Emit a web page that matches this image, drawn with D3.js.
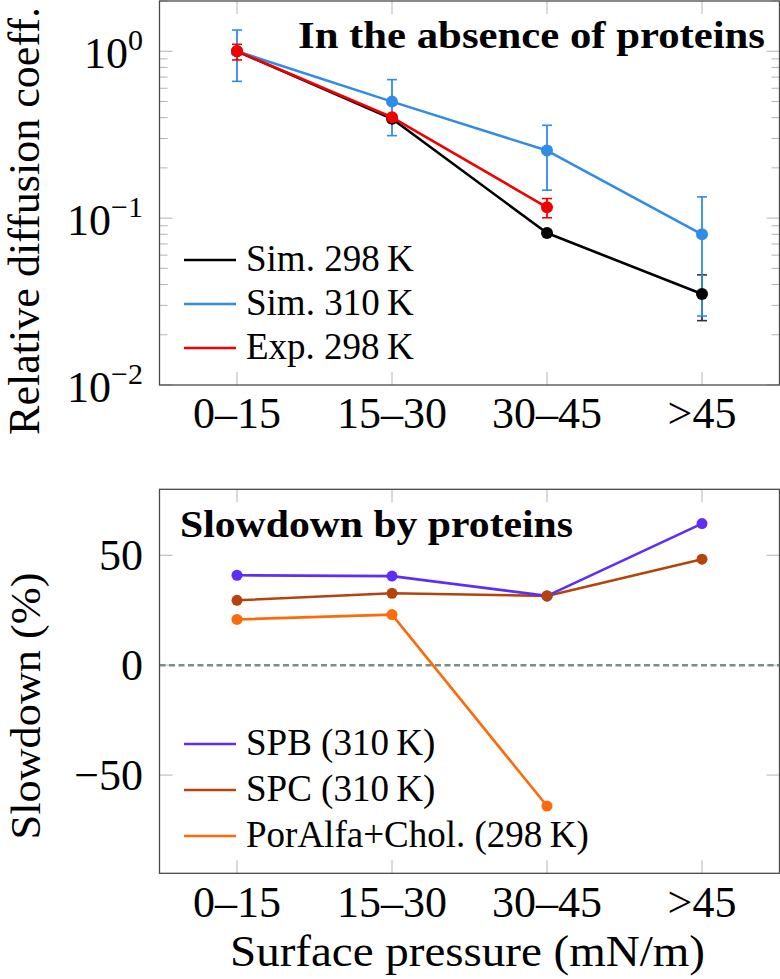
<!DOCTYPE html>
<html><head><meta charset="utf-8">
<script src="https://cdn.jsdelivr.net/npm/d3@7"></script>
<style>body{margin:0;background:#fff}svg{display:block}</style>
</head><body>
<script>
const categories = ["0–15", "15–30", "30–45", ">45"];
// Top panel: relative diffusion coefficient
const sim298 = [1.0, 0.394, 0.0814, 0.0351];
const sim298Lo = [1.0, 0.394, 0.0814, 0.0243];
const sim298Hi = [1.0, 0.394, 0.0814, 0.0457];
const sim310 = [1.0, 0.499, 0.254, 0.080];
const sim310Lo = [0.66, 0.312, 0.147, 0.0259];
const sim310Hi = [1.34, 0.676, 0.36, 0.134];
const exp298 = [1.0, 0.402, 0.116];
const exp298Lo = [0.887, 0.402, 0.1005];
const exp298Hi = [1.10, 0.402, 0.131];
const topTicks = [0.01, 0.1, 1];
const topTickLabels = [["10", "−2"], ["10", "−1"], ["10", "0"]];
// Bottom panel: slowdown by proteins (%)
const spb = [40.9, 40.5, 31.5, 64.4];
const spc = [29.5, 32.7, 31.5, 48.2];
const poralfa = [20.8, 23.0, -64.1];
const bottomTicks = [-50, 0, 50];
const bottomTickLabels = ["−50", "0", "50"];

const FONT = "'Liberation Serif', 'Times New Roman', Tinos, serif";
const W = 780, H = 979;
const svg = d3.select("body").append("svg").attr("width", W).attr("height", H)
  .attr("font-family", FONT).style("font-family", FONT);
const x = d3.scaleLinear().domain([-0.5, 3.5]).range([159.5, 779.5]);
const yTop = d3.scaleLog().domain([0.01, 2]).range([385, 1]);
const yBot = d3.scaleLinear().domain([-94.7, 80]).range([873.3, 489.3]);
const tickCol = "#b4b4b4", frameCol = "#4a4a4a";

function T(sel) { return sel.append("text").attr("font-family", FONT).attr("fill", "#000"); }
function frame(y0, y1) {
  svg.append("rect").attr("x", x.range()[0]).attr("y", y0)
    .attr("width", x.range()[1] - x.range()[0]).attr("height", y1 - y0)
    .attr("fill", "none").attr("stroke", frameCol).attr("stroke-width", 1.3);
}
function xTicks(y0, y1, labelY) {
  categories.forEach((c, i) => {
    const xx = x(i);
    svg.append("line").attr("x1", xx).attr("x2", xx).attr("y1", y1).attr("y2", y1 - 13).attr("stroke", tickCol).attr("stroke-width", 1);
    svg.append("line").attr("x1", xx).attr("x2", xx).attr("y1", y0).attr("y2", y0 + 13).attr("stroke", tickCol).attr("stroke-width", 1);
    T(svg).attr("x", xx).attr("y", labelY).attr("text-anchor", "middle").attr("font-size", 44).text(c);
  });
}
function yTick(yy, len) {
  const [l, r] = x.range();
  svg.append("line").attr("x1", l).attr("x2", l + len).attr("y1", yy).attr("y2", yy).attr("stroke", tickCol).attr("stroke-width", 1);
  svg.append("line").attr("x1", r).attr("x2", r - len).attr("y1", yy).attr("y2", yy).attr("stroke", tickCol).attr("stroke-width", 1);
}

// ---------- TOP PANEL ----------
[0.01, 0.1, 1].forEach(d => { for (let k = 2; k <= 9; k++) { const v = d * k; if (v <= 2.0001) yTick(yTop(v), 8); } });
topTicks.forEach((t, i) => {
  yTick(yTop(t), 13);
  const g = T(svg).attr("x", 143).attr("y", yTop(t) + 17).attr("text-anchor", "end").attr("font-size", 44);
  g.append("tspan").text(topTickLabels[i][0]);
  g.append("tspan").attr("dy", -18).attr("font-size", 30).text(topTickLabels[i][1]);
});
xTicks(1, 385, 428);

function errBars(vals, lo, hi, col, scale) {
  vals.forEach((v, i) => {
    if (lo[i] === hi[i]) return;
    const xx = x(i);
    svg.append("line").attr("x1", xx).attr("x2", xx).attr("y1", scale(lo[i])).attr("y2", scale(hi[i])).attr("stroke", col).attr("stroke-width", 1.8);
    [lo[i], hi[i]].forEach(e => svg.append("line").attr("x1", xx - 5).attr("x2", xx + 5).attr("y1", scale(e)).attr("y2", scale(e)).attr("stroke", col).attr("stroke-width", 1.6));
  });
}
function series(vals, col, scale, r) {
  const line = d3.line().x((d, i) => x(i)).y(d => scale(d));
  svg.append("path").attr("d", line(vals)).attr("fill", "none").attr("stroke", col).attr("stroke-width", 2.6).attr("stroke-linejoin", "round");
  vals.forEach((v, i) => svg.append("circle").attr("cx", x(i)).attr("cy", scale(v)).attr("r", r).attr("fill", col));
}
const cBlack = "#000000", cBlue = "#318ce7", cRed = "#f00000";
errBars(sim298, sim298Lo, sim298Hi, "#333", yTop);
errBars(sim310, sim310Lo, sim310Hi, cBlue, yTop);
series(sim298, cBlack, yTop, 6);
series(sim310, cBlue, yTop, 6);
errBars(exp298, exp298Lo, exp298Hi, cRed, yTop);
series(exp298, cRed, yTop, 6);
frame(1, 385);

T(svg).attr("x", 765).attr("y", 48).attr("text-anchor", "end").attr("font-size", 38).attr("font-weight", "bold")
  .attr("textLength", 467).attr("lengthAdjust", "spacingAndGlyphs").text("In the absence of proteins");

const topLegend = [["Sim. 298\u2009K", cBlack], ["Sim. 310\u2009K", cBlue], ["Exp. 298\u2009K", cRed]];
topLegend.forEach((d, i) => {
  const yy = 260 + i * 44;
  svg.append("line").attr("x1", 184).attr("x2", 236).attr("y1", yy).attr("y2", yy).attr("stroke", d[1]).attr("stroke-width", 2.6);
  T(svg).attr("x", 246).attr("y", yy + 11).attr("font-size", 37).text(d[0]);
});
T(svg).attr("transform", "translate(39,221) rotate(-90)").attr("text-anchor", "middle").attr("font-size", 44)
  .attr("textLength", 428).attr("lengthAdjust", "spacingAndGlyphs").text("Relative diffusion coeff.");

// ---------- BOTTOM PANEL ----------
bottomTicks.forEach((t, i) => {
  yTick(yBot(t), 13);
  T(svg).attr("x", 143).attr("y", yBot(t) + 15).attr("text-anchor", "end").attr("font-size", 44).text(bottomTickLabels[i]);
});
xTicks(489.3, 873.3, 916.7);
svg.append("line").attr("x1", x.range()[0]).attr("x2", x.range()[1]).attr("y1", yBot(0)).attr("y2", yBot(0))
  .attr("stroke", "#7f8c8d").attr("stroke-width", 2.5).attr("stroke-dasharray", "6,3.5");
const cSPB = "#5c2ef6", cSPC = "#b4440c", cPor = "#fd6a0a";
series(poralfa, cPor, yBot, 5.5);
series(spc, cSPC, yBot, 5.5);
series(spb, cSPB, yBot, 5.5);
svg.append("circle").attr("cx", x(2)).attr("cy", yBot(spc[2])).attr("r", 5.5).attr("fill", cSPC);
frame(489.3, 873.3);

T(svg).attr("x", 180).attr("y", 536.7).attr("font-size", 38).attr("font-weight", "bold")
  .attr("textLength", 393).attr("lengthAdjust", "spacingAndGlyphs").text("Slowdown by proteins");
const botLegend = [["SPB (310\u2009K)", cSPB], ["SPC (310\u2009K)", cSPC], ["PorAlfa+Chol. (298\u2009K)", cPor]];
botLegend.forEach((d, i) => {
  const yy = 744 + i * 46;
  svg.append("line").attr("x1", 184).attr("x2", 236).attr("y1", yy).attr("y2", yy).attr("stroke", d[1]).attr("stroke-width", 2.6);
  T(svg).attr("x", 246).attr("y", yy + 11).attr("font-size", 37).text(d[0]);
});
T(svg).attr("transform", "translate(40,706) rotate(-90)").attr("text-anchor", "middle").attr("font-size", 43)
  .attr("textLength", 267).attr("lengthAdjust", "spacingAndGlyphs").text("Slowdown (%)");
T(svg).attr("x", 467.5).attr("y", 966).attr("text-anchor", "middle").attr("font-size", 44)
  .attr("textLength", 475).attr("lengthAdjust", "spacingAndGlyphs").text("Surface pressure (mN/m)");
</script>
</body></html>
